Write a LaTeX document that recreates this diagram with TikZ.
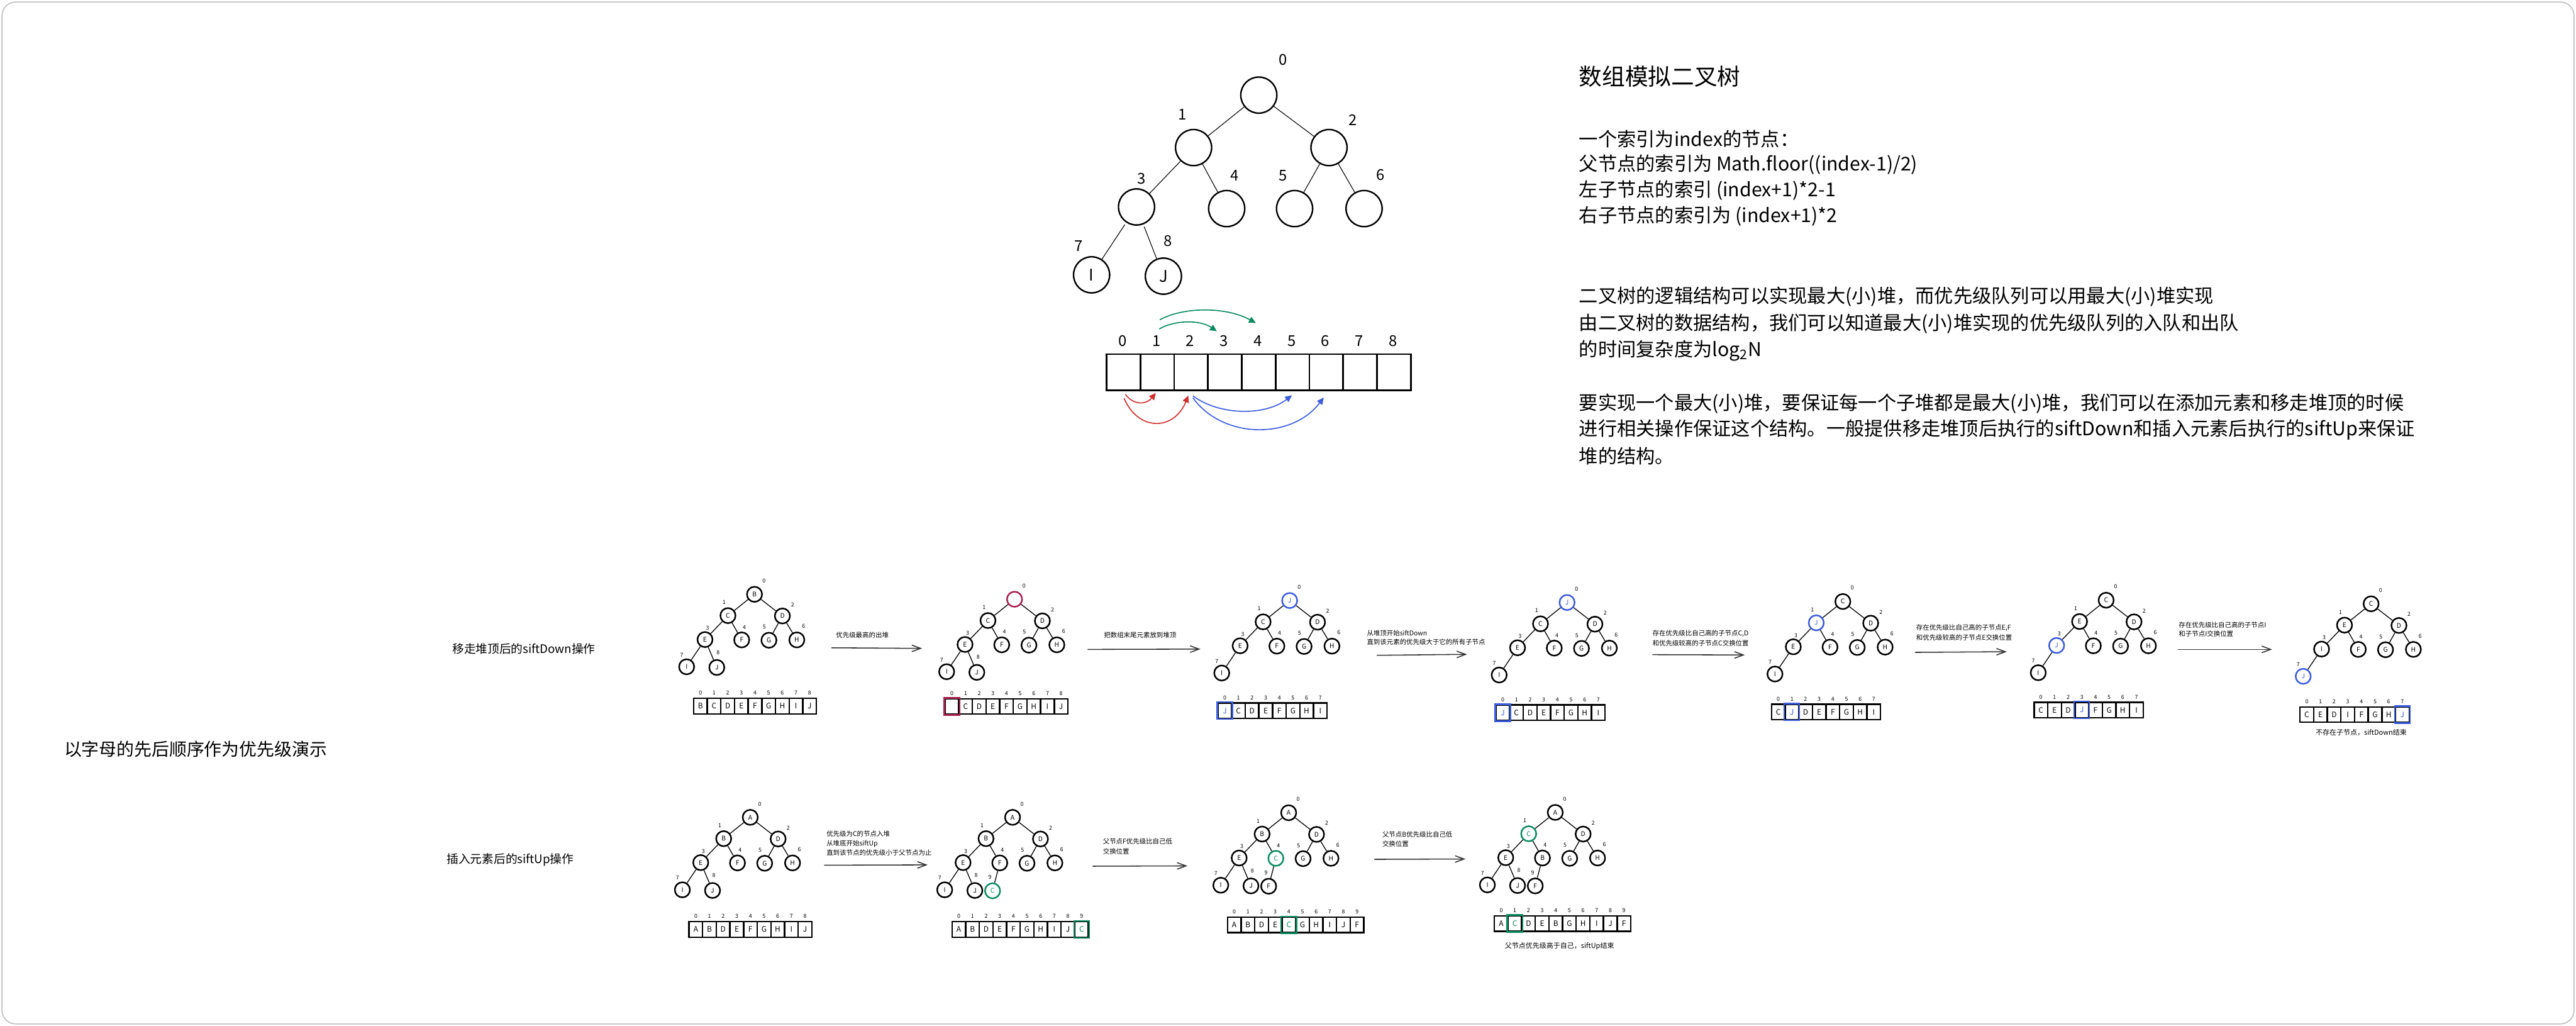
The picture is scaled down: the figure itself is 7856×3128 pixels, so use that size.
\documentclass[tikz,border=0pt]{standalone}
\usepackage{fontspec}
\setmainfont{Noto Sans CJK SC}
\usetikzlibrary{arrows.meta,calc}
\definecolor{hblue}{HTML}{3B5BDB}
\definecolor{hgreen}{HTML}{0B8A5E}
\definecolor{hred}{HTML}{D03030}
\definecolor{hcrim}{HTML}{A61E4D}
\definecolor{arrgray}{HTML}{333333}
\newcommand\fs[1]{\fontsize{#1}{#1}\selectfont}
\def\TX{{0,-81,85,-151,-39,44,129,-207,-115,-61}}
\def\TY{{0,65,66,138,139,140,139,221,223,224}}
\def\LX{{29,-93,116,-143,-31,30,150,-222,-111,-69}}
\def\LY{{-41,25,32,103,100,100,98,185,177,183}}
\tikzset{
  every node/.style={inner sep=0pt},
  ttnode/.style={circle,draw,line width=1.3pt,minimum size=1.1cm,font=\fs{14}},
  ttidx/.style={font=\fs{13}},
  ttedge/.style={line width=0.6pt},
  tcell/.style={rectangle,draw,line width=1.5pt,minimum width=1.031cm,minimum height=1.1cm,anchor=north west},
  hnode/.style={circle,draw,line width=1.35pt,minimum size=0.46cm,font=\fs{5.6}},
  hidx/.style={font=\fs{4.8}},
  hedge/.style={line width=0.7pt},
  hcell/.style={rectangle,draw,line width=1.3pt,minimum width=0.416cm,minimum height=0.47cm,anchor=north west,font=\fs{6.5}},
  hcellhl/.style={line width=1.3pt},
  steparrow/.style={draw=arrgray,line width=0.85pt,-{Straight Barb[length=7.7pt,width=5.7pt]}},
  steplabel/.style={anchor=west,font=\fs{5.7}},
  caption/.style={font=\fs{6}},
  body/.style={anchor=west,font=\fs{16.5}},
  rowlabel/.style={anchor=west,font=\fs{10.2}},
  colarrow/.style={line width=0.9pt,-{Triangle[length=6pt,width=5.5pt]}},
}
\newcommand\htree[6]{%
  \foreach \lett [count=\ii from 0] in {#4} {%
    \pgfmathsetmacro\xx{#2+\TX[\ii]}%
    \pgfmathsetmacro\yy{#3+\TY[\ii]}%
    \pgfmathsetmacro\lx{#2+\LX[\ii]}%
    \pgfmathsetmacro\ly{#3+\LY[\ii]}%
    \ifnum\ii=#5\relax\def\col{#6}\else\def\col{black}\fi
    \node[hnode,draw=\col,text=\col] (#1n\ii) at (\xx,\yy) {\lett};
    \node[hidx] (#1l\ii) at (\lx,\ly) {\ii};
    \ifnum\ii>0\relax
      \pgfmathtruncatemacro\pp{(\ii-1)/2}%
      \draw[hedge] (#1n\pp) -- (#1n\ii);
    \fi
  }}
\newcommand\harr[6]{%
  \foreach \lett [count=\ii from 0] in {#4} {%
    \pgfmathsetmacro\xx{#2+41.6*\ii}%
    \ifnum\ii=#5\relax\def\col{#6}\else\def\col{black}\fi
    \node[hcell,text=\col] (#1c\ii) at (\xx,#3) {\lett};
    \node[hidx] (#1i\ii) at ($(#1c\ii.north)+(0,-14)$) {\ii};
  }%
  \ifnum#5>-1\relax
    \draw[hcellhl,draw=#6] (#1c#5.north west) rectangle (#1c#5.south east);
  \fi}
\begin{document}
\begin{tikzpicture}[x=0.01cm,y=-0.01cm]
\useasboundingbox (0,0) rectangle (7856,3128);
\fill[white] (0,0) rectangle (7856,3128);
\draw[gray!55,line width=0.8pt,rounded corners=12pt] (6,6) rectangle (7850,3122);

% ---------- top tree ----------
\node[ttnode] (t0) at (3839,290) {};
\node[ttnode] (t1) at (3640,450) {};
\node[ttnode] (t2) at (4053,450) {};
\node[ttnode] (t3) at (3466,631) {};
\node[ttnode] (t4) at (3741,636) {};
\node[ttnode] (t5) at (3948,636) {};
\node[ttnode] (t6) at (4160,636) {};
\node[ttnode] (t7) at (3329,838) {I};
\node[ttnode] (t8) at (3548,842) {J};
\node[ttidx] (tl0) at (3912,183) {0};
\node[ttidx] (tl1) at (3605,350) {1};
\node[ttidx] (tl2) at (4126,367) {2};
\node[ttidx] (tl3) at (3482,545) {3};
\node[ttidx] (tl4) at (3765,536) {4};
\node[ttidx] (tl5) at (3913,536) {5};
\node[ttidx] (tl6) at (4210,533) {6};
\node[ttidx] (tl7) at (3290,749) {7};
\node[ttidx] (tl8) at (3562,734) {8};
\draw[ttedge] (t0) -- (t1);
\draw[ttedge] (t0) -- (t2);
\draw[ttedge] (t1) -- (t3);
\draw[ttedge] (t1) -- (t4);
\draw[ttedge] (t2) -- (t5);
\draw[ttedge] (t2) -- (t6);
\draw[ttedge,shorten <=2pt] (t3) -- (t7);
\draw[ttedge,shorten <=2pt] (t3) -- (t8);

% ---------- top array ----------
\foreach \ii in {0,...,8} {
  \node[tcell] (tc\ii) at (3372+103.1*\ii,1077) {};
  \node[ttidx] (ti\ii) at (3423.5+103.1*\ii,1039) {\ii};
}
\coordinate (g1s) at (3537,975);  \coordinate (g1e) at (3830,985);
\coordinate (g2s) at (3535,1003); \coordinate (g2e) at (3711,1010);
\coordinate (r1s) at (3432,1202); \coordinate (r1e) at (3525,1198);
\coordinate (r2s) at (3428,1214); \coordinate (r2e) at (3624,1206);
\coordinate (b1s) at (3638,1207); \coordinate (b1e) at (3940,1205);
\coordinate (b2s) at (3638,1213); \coordinate (b2e) at (4037,1212);
\draw[colarrow,hgreen] (g1s) .. controls (3610,935) and (3740,935) .. (g1e);
\draw[colarrow,hgreen] (g2s) .. controls (3585,975) and (3660,975) .. (g2e);
\draw[colarrow,hred] (r1s) .. controls (3455,1235) and (3495,1235) .. (r1e);
\draw[colarrow,hred] (r2s) .. controls (3470,1315) and (3580,1315) .. (r2e);
\draw[colarrow,hblue] (b1s) .. controls (3720,1268) and (3860,1268) .. (b1e);
\draw[colarrow,hblue] (b2s) .. controls (3730,1340) and (3940,1340) .. (b2e);

% ---------- right text ----------
\node[anchor=west,font=\fs{20}] (title) at (4815,233) {数组模拟二叉树};
\node[body] (p1a) at (4815,424) {一个索引为index的节点：};
\node[body] (p1b) at (4815,502) {父节点的索引为 Math.floor((index-1)/2)};
\node[body] (p1c) at (4815,581) {左子节点的索引 (index+1)*2-1};
\node[body] (p1d) at (4815,660) {右子节点的索引为 (index+1)*2};
\node[body] (p2a) at (4815,905) {二叉树的逻辑结构可以实现最大(小)堆，而优先级队列可以用最大(小)堆实现};
\node[body] (p2b) at (4815,987) {由二叉树的数据结构，我们可以知道最大(小)堆实现的优先级队列的入队和出队};
\node[body] (p2c) at (4815,1070) {的时间复杂度为log\textsubscript{2}N};
\node[body] (p3a) at (4815,1230) {要实现一个最大(小)堆，要保证每一个子堆都是最大(小)堆，我们可以在添加元素和移走堆顶的时候};
\node[body] (p3b) at (4815,1310) {进行相关操作保证这个结构。一般提供移走堆顶后执行的siftDown和插入元素后执行的siftUp来保证};
\node[body] (p3c) at (4815,1390) {堆的结构。};

% ---------- labels ----------
\node[anchor=west,font=\fs{15.2}] (main) at (195,2285) {以字母的先后顺序作为优先级演示};
\node[rowlabel] (row1) at (1379,1978) {移走堆顶后的siftDown操作};
\node[rowlabel] (row2) at (1362,2622) {插入元素后的siftUp操作};

% ---------- row 1 ----------
\htree{a}{2301}{1812}{B,C,D,E,F,G,H,I,J}{-1}{black}
\harr{a}{2113}{2127}{B,C,D,E,F,G,H,I,J}{-1}{black}
\htree{b}{3094}{1827}{{},C,D,E,F,G,H,I,J}{0}{hcrim}
\harr{b}{2880}{2128}{{},C,D,E,F,G,H,I,J}{0}{hcrim}
\htree{c}{3933}{1831}{J,C,D,E,F,G,H,I}{0}{hblue}
\harr{c}{3712}{2141}{J,C,D,E,F,G,H,I}{0}{hblue}
\htree{d}{4779}{1837}{J,C,D,E,F,G,H,I}{0}{hblue}
\harr{d}{4560}{2147}{J,C,D,E,F,G,H,I}{0}{hblue}
\htree{e}{5620}{1834}{C,J,D,E,F,G,H,I}{1}{hblue}
\harr{e}{5400}{2145}{C,J,D,E,F,G,H,I}{1}{hblue}
\htree{f}{6423}{1830}{C,E,D,J,F,G,H,I}{3}{hblue}
\harr{f}{6201}{2139}{C,E,D,J,F,G,H,I}{3}{hblue}
\htree{g}{7231}{1841}{C,E,D,I,F,G,H,J}{7}{hblue}
\harr{g}{7012}{2153}{C,E,D,I,F,G,H,J}{7}{hblue}
\node[caption] (capg) at (7201,2234) {不存在子节点，siftDown结束};

\coordinate (a1s) at (2536,1975); \coordinate (a1e) at (2812,1977);
\coordinate (a2s) at (3317,1980); \coordinate (a2e) at (3661,1979);
\coordinate (a3s) at (4199,1998); \coordinate (a3e) at (4474,1995);
\coordinate (a4s) at (5039,1996); \coordinate (a4e) at (5321,1997);
\coordinate (a5s) at (5840,1989); \coordinate (a5e) at (6120,1987);
\coordinate (a6s) at (6642,1980); \coordinate (a6e) at (6929,1980);
\draw[steparrow] (a1s) -- (a1e);
\draw[steparrow] (a2s) -- (a2e);
\draw[steparrow] (a3s) -- (a3e);
\draw[steparrow] (a4s) -- (a4e);
\draw[steparrow] (a5s) -- (a5e);
\draw[steparrow] (a6s) -- (a6e);
\node[steplabel] (la1) at (2549,1937) {优先级最高的出堆};
\node[steplabel] (la2) at (3366,1936) {把数组末尾元素放到堆顶};
\node[steplabel] (la3a) at (4168,1930) {从堆顶开始siftDown};
\node[steplabel] (la3b) at (4168,1957) {直到该元素的优先级大于它的所有子节点};
\node[steplabel] (la4a) at (5039,1932) {存在优先级比自己高的子节点C,D};
\node[steplabel] (la4b) at (5039,1961) {和优先级较高的子节点C交换位置};
\node[steplabel] (la5a) at (5843,1915) {存在优先级比自己高的子节点E,F};
\node[steplabel] (la5b) at (5843,1944) {和优先级较高的子节点E交换位置};
\node[steplabel] (la6a) at (6644,1905) {存在优先级比自己高的子节点I};
\node[steplabel] (la6b) at (6644,1932) {和子节点I交换位置};

% ---------- row 2 ----------
\htree{p}{2288}{2492}{A,B,D,E,F,G,H,I,J}{-1}{black}
\harr{p}{2099}{2808}{A,B,D,E,F,G,H,I,J}{-1}{black}
\htree{q}{3088}{2492}{A,B,D,E,F,G,H,I,J,C}{9}{hgreen}
\harr{q}{2901}{2808}{A,B,D,E,F,G,H,I,J,C}{9}{hgreen}
\htree{r}{3930}{2478}{A,B,D,E,C,G,H,I,J,F}{4}{hgreen}
\harr{r}{3741}{2794}{A,B,D,E,C,G,H,I,J,F}{4}{hgreen}
\htree{s}{4743}{2477}{A,C,D,E,B,G,H,I,J,F}{1}{hgreen}
\harr{s}{4555}{2790}{A,C,D,E,B,G,H,I,J,F}{1}{hgreen}
\node[caption] (caps) at (4756,2884) {父节点优先级高于自己，siftUp结束};

\coordinate (b1s2) at (2513,2638); \coordinate (b1e2) at (2829,2637);
\coordinate (b2s2) at (3332,2641); \coordinate (b2e2) at (3621,2640);
\coordinate (b3s2) at (4191,2620); \coordinate (b3e2) at (4469,2619);
\draw[steparrow] (b1s2) -- (b1e2);
\draw[steparrow] (b2s2) -- (b2e2);
\draw[steparrow] (b3s2) -- (b3e2);
\node[steplabel] (lb1a) at (2520,2542) {优先级为C的节点入堆};
\node[steplabel] (lb1b) at (2520,2572) {从堆底开始siftUp};
\node[steplabel] (lb1c) at (2520,2599) {直到该节点的优先级小于父节点为止};
\node[steplabel] (lb2a) at (3363,2566) {父节点F优先级比自己低};
\node[steplabel] (lb2b) at (3363,2595) {交换位置};
\node[steplabel] (lb3a) at (4215,2544) {父节点B优先级比自己低};
\node[steplabel] (lb3b) at (4215,2572) {交换位置};
\end{tikzpicture}
\end{document}
